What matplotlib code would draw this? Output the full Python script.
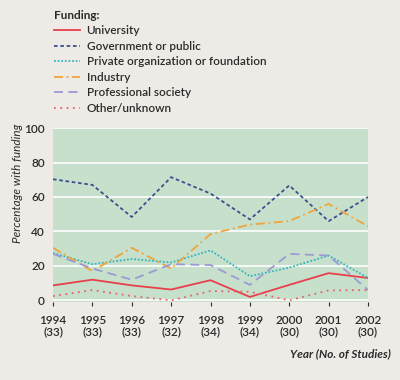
import matplotlib.pyplot as plt

years = [1994, 1995, 1996, 1997, 1998, 1999, 2000, 2001, 2002]
n_studies = [33, 33, 33, 32, 34, 34, 30, 30, 30]

university = [8.7, 12, 8.7, 6.3, 11.7, 2, 9, 15.8, 13]
government = [70.3, 67, 48.4, 71.5, 62, 47, 66.7, 46, 60]
private = [27.5, 21, 24, 22, 29, 14, 19, 26, 13]
industry = [30.5, 17, 30.5, 18.5, 38.5, 44, 46, 56, 43]
professional = [27, 18.5, 12, 21, 20.5, 9, 27, 26, 6]
other = [2.5, 6, 2.5, 0, 5.4, 5, 0, 5.8, 6]

plt.rcParams['font.family'] = ['Lato', 'DejaVu Sans']
txt = '#2b2b2b'

fig = plt.figure(figsize=(4, 3.8), dpi=100, facecolor='#eeebe6')
ax = fig.add_axes([0.1325, 0.205, 0.7875, 0.458])
ax.set_facecolor('#c6e0cc')

ax.plot(years, university, color='#e8404a', lw=1.3, ls='-', label='University')
ax.plot(years, government, color='#3d4f8e', lw=1.3, ls=(0, (2, 1.5)), label='Government or public')
ax.plot(years, private, color='#36b6bc', lw=1.3, ls=(0, (1, 1)), label='Private organization or foundation')
ax.plot(years, industry, color='#f0a43c', lw=1.3, ls=(0, (5, 2, 1, 2)), label='Industry')
ax.plot(years, professional, color='#9c9ad2', lw=1.3, ls=(0, (5, 3)), label='Professional society')
ax.plot(years, other, color='#e8606c', lw=1.3, ls=(0, (1, 2.5)), label='Other/unknown')

ax.set_xlim(1994, 2002)
ax.set_ylim(-1, 100)
ax.set_yticks([0, 20, 40, 60, 80, 100])
ax.grid(axis='y', color='white', lw=1.2)
ax.set_axisbelow(True)
for s in ax.spines.values():
    s.set_visible(False)

ax.set_xticks(years)
ax.set_xticklabels([f'{y}\n({n})' for y, n in zip(years, n_studies)])
ax.tick_params(axis='x', length=3, color=txt, labelsize=8.5, labelcolor=txt, pad=6)
ax.tick_params(axis='y', length=0, labelsize=8.5, labelcolor=txt, pad=6)
for t in ax.get_xticklabels() + ax.get_yticklabels():
    t.set_fontweight('semibold')
for t in ax.get_xticklabels():
    t.set_linespacing(1.1)

ax.set_ylabel('Percentage with funding', style='italic', fontsize=8.5, color=txt)
ax.yaxis.set_label_coords(-0.095, 0.68)
fig.text(0.978, 0.06, 'Year (No. of Studies)', style='italic', fontweight='bold',
         fontsize=8.5, color=txt, ha='right')

leg = fig.legend(loc='upper left', bbox_to_anchor=(0.128, 0.98), frameon=False,
                 title='Funding:', fontsize=8.5, handlelength=2.2, handletextpad=0.6,
                 labelspacing=0.38, borderaxespad=0.0, borderpad=0.2)
leg._legend_box.align = 'left'
leg.get_title().set_fontweight('bold')
leg.get_title().set_fontsize(8.5)
leg.get_title().set_color(txt)
for t in leg.get_texts():
    t.set_fontweight('semibold')
    t.set_color(txt)

fig.savefig('out.png', dpi=100, facecolor=fig.get_facecolor())
